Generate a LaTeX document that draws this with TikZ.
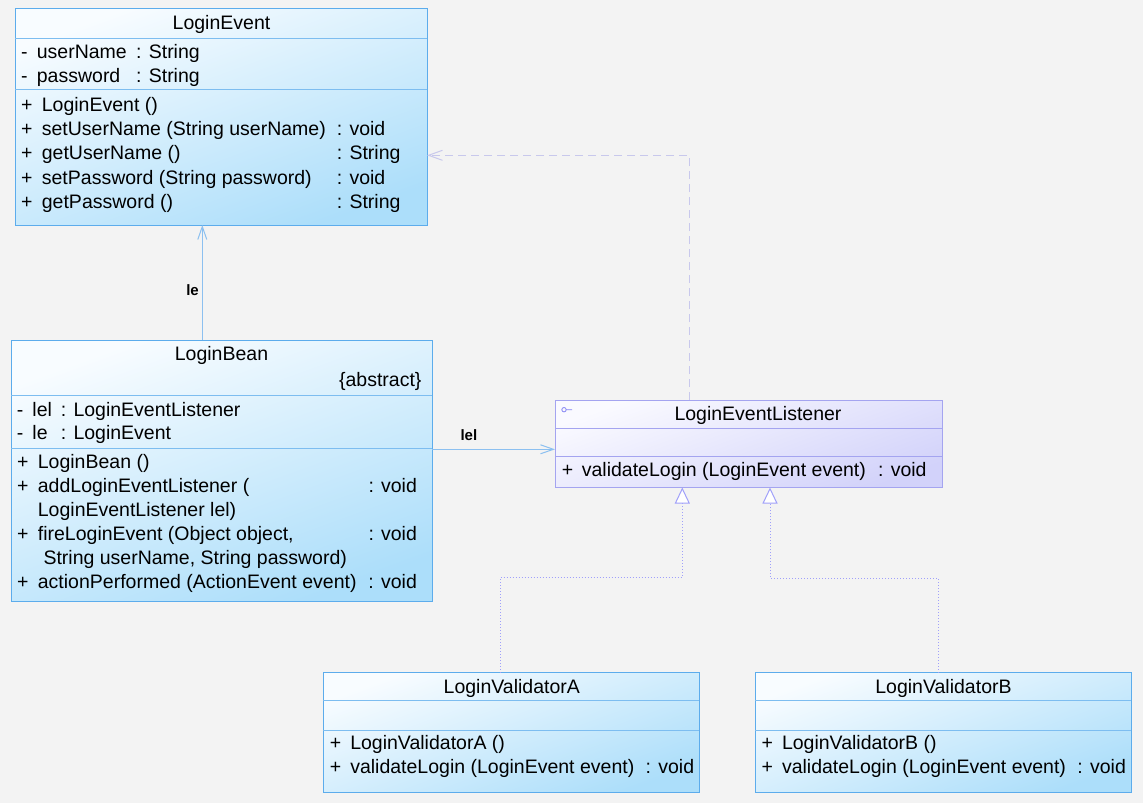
\documentclass[tikz,border=0pt]{standalone}
\usepackage{fontspec}
\setmainfont{Liberation Sans}
\usetikzlibrary{arrows.meta}
\definecolor{hgrund}{RGB}{243,243,243}
\definecolor{klrand}{RGB}{92,172,236}
\definecolor{klhell}{RGB}{248,252,255}
\definecolor{kldunkel}{RGB}{172,222,250}
\definecolor{ifrand}{RGB}{164,164,240}
\definecolor{ifhell}{RGB}{250,250,255}
\definecolor{ifdunkel}{RGB}{210,210,250}
\definecolor{assfarbe}{RGB}{140,192,240}
\definecolor{abhfarbe}{RGB}{200,200,236}
\definecolor{realfarbe}{RGB}{160,160,250}
\tikzstyle{klasse}=[draw=klrand, line width=1pt, top color=klhell, bottom color=kldunkel, shading angle=20, inner sep=0pt, outer sep=0pt, anchor=north west]
\tikzstyle{schnittst}=[klasse, draw=ifrand, top color=ifhell, bottom color=ifdunkel, shading angle=20]
\tikzstyle{trenner}=[draw=klrand!80!white, line width=1pt]
\tikzstyle{iftrenner}=[draw=ifrand, line width=1pt]
\tikzstyle{zeile}=[anchor=base west, inner sep=0pt]
\tikzstyle{titel}=[anchor=base, inner sep=0pt]
\tikzstyle{etikett}=[inner sep=0pt, font=\fontsize{15}{18}\selectfont\bfseries]
\tikzstyle{assoz}=[draw=assfarbe, line width=1pt, -{Straight Barb[length=13pt,width=9pt]}]
\tikzstyle{abh}=[draw=abhfarbe, line width=1pt, dash pattern=on 8pt off 5pt, -{Straight Barb[length=14pt,width=10pt]}]
\tikzstyle{real}=[draw=realfarbe, line width=1pt, dash pattern=on 1pt off 2pt, -{Triangle[length=16pt,width=15pt,fill=white]}]

\begin{document}
\begin{tikzpicture}[x=1pt, y=-1pt, font=\fontsize{19.5}{23}\selectfont]
	% Hintergrund
	\fill[hgrund] (0,0) rectangle (1143,803);
	\useasboundingbox (0,0) rectangle (1143,803);
	% Klasse LoginEvent
	\node[klasse, minimum width=412pt, minimum height=217pt] (event) at (15,8) {};
	\draw[trenner] (15,38) -- (427,38) (15,89) -- (427,89);
	\node[titel] (event-titel) at (221.5,29.5) {LoginEvent};
	\foreach \n/\t [count=\i] in {userName/String, password/String}
		\node[zeile] (event-a\i) at (21,{33.5+24.5*\i}) {\makebox[15.7pt][l]{-}\makebox[99.3pt][l]{\n}: \t};
	\foreach \n/\t [count=\i] in {{LoginEvent ()}/{}, {setUserName (String userName)}/{: void}, {getUserName ()}/{: String}, {setPassword (String password)}/{: void}, {getPassword ()}/{: String}}
		\node[zeile] (event-m\i) at (21,{86.6+24.4*\i}) {\makebox[20.7pt][l]{+}\makebox[295pt][l]{\n}\t};
	% Klasse LoginBean
	\node[klasse, minimum width=421pt, minimum height=261pt] (bean) at (11,340) {};
	\draw[trenner] (11,395) -- (432,395) (11,448) -- (432,448);
	\node[titel] (bean-titel) at (221.5,360.7) {LoginBean};
	\node[zeile, anchor=base east] (bean-abstrakt) at (421.7,386.7) {\{abstract\}};
	\foreach \n/\t [count=\i] in {lel/LoginEventListener, le/LoginEvent}
		\node[zeile] (bean-a\i) at (16.7,{392.5+23.5*\i}) {\makebox[15.6pt][l]{-}\makebox[28.4pt][l]{\n}: \t};
	\foreach \y/\p/\n/\t [count=\i] in {468/+/{LoginBean ()}/{}, 492/+/{addLoginEventListener (}/{: void}, 516.5/{}/{LoginEventListener lel)}/{}, 540/+/{fireLoginEvent (Object object,}/{: void}, 564/{}/{\hspace{5.6pt}String userName, String password)}/{}, 588.3/+/{actionPerformed (ActionEvent event)}/{: void}}
		\node[zeile] (bean-m\i) at (17,\y) {\makebox[20.7pt][l]{\p}\makebox[330.6pt][l]{\n}\t};
	% Schnittstelle LoginEventListener
	\node[schnittst, minimum width=387pt, minimum height=87.5pt] (listener) at (555,400) {};
	\draw[iftrenner] (555,428.3) -- (942,428.3) (555,456.7) -- (942,456.7);
	\draw[draw=ifrand!80!blue, line width=0.8pt] (564,409.7) circle (2.2pt) (566.2,409.7) -- (572,409.7);
	\node[titel] (listener-titel) at (758,420.7) {LoginEventListener};
	\node[zeile] (listener-m1) at (561.7,476.7) {\makebox[20pt][l]{+}\makebox[296.3pt][l]{validateLogin (LoginEvent event)}: void};
	% Klassen LoginValidatorA und LoginValidatorB
	\foreach \k/\x in {A/323.3, B/755} {
		\node[klasse, minimum width=376pt, minimum height=120pt] (val\k) at (\x,672.5) {};
		\draw[trenner] (\x,700.8) -- +(376,0) (\x,730) -- +(376,0);
		\node[titel] (val\k-titel) at ({\x+188.5},693.2) {LoginValidator\k};
		\node[zeile] (val\k-m1) at ({\x+6.3},749.8) {\makebox[20.5pt][l]{+}LoginValidator\k\ ()};
		\node[zeile] (val\k-m2) at ({\x+6.3},773.2) {\makebox[20.5pt][l]{+}\makebox[295.5pt][l]{validateLogin (LoginEvent event)}: void};
	}
	% Assoziationen
	\coordinate (leX) at (202.3,0);
	\coordinate (lelY) at (0,449.3);
	\draw[assoz] (bean.north -| leX) -- node[etikett, pos=0.43, left=3pt] (le-text) {le} (event.south -| leX);
	\draw[assoz] (bean.east |- lelY) -- node[etikett, pos=0.3, above=8.5pt] (lel-text) {lel} (listener.west |- lelY);
	% Abhaengigkeit
	\coordinate (knick) at (689.3,155.3);
	\draw[abh] (listener.north -| knick) -- (knick) -- (event.east |- knick);
	% Realisierungen
	\coordinate (fussA) at (500,0);
	\coordinate (fussB) at (938.7,0);
	\coordinate (knickA) at (682.3,577);
	\coordinate (knickB) at (770,578.3);
	\draw[real] (valA.north -| fussA) |- (knickA) -- (listener.south -| knickA);
	\draw[real] (valB.north -| fussB) |- (knickB) -- (listener.south -| knickB);
\end{tikzpicture}
\end{document}
